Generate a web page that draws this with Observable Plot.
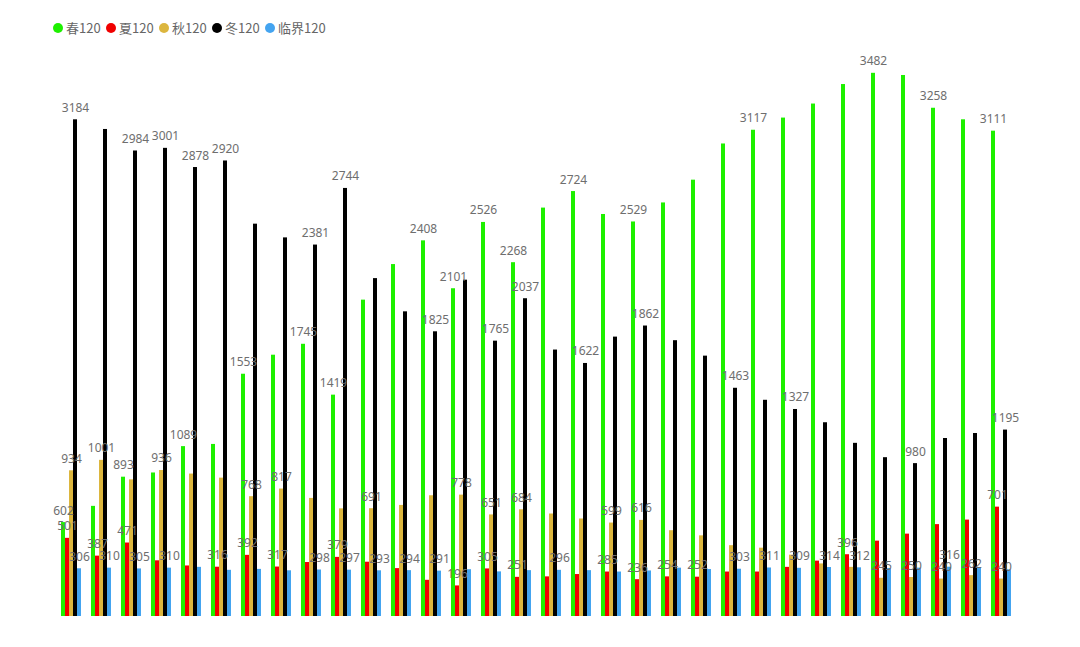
<!DOCTYPE html>
<html>
<head>
<meta charset="utf-8">
<script src="https://cdn.jsdelivr.net/npm/d3@7"></script>
<script src="https://cdn.jsdelivr.net/npm/@observablehq/plot@0.6"></script>
<style>
  html, body { margin: 0; padding: 0; background: #fff; }
  #legend { height: 50px; position: relative; font-family: "Noto Sans CJK SC", "Noto Sans", sans-serif; font-size: 13px; color: #666; }
  #legend .items { position: absolute; left: 53px; top: 18px; display: flex; align-items: center; }
  #legend .item { display: flex; align-items: center; width: 53px; white-space: nowrap; }
  #legend .dot { width: 10px; height: 10px; border-radius: 50%; margin-right: 3px; flex: none; }
  svg { display: block; }
</style>
</head>
<body>
<div id="legend"><div class="items"></div></div>
<div id="chart"></div>
<script>
// ---- data ----
const categories = d3.range(1, 33).map(String);
const seriesNames = ["春120", "夏120", "秋120", "冬120", "临界120"];
const seriesColors = ["#1ef000", "#f00000", "#dcb63e", "#000000", "#44a4f0"];

const spring = [602, 706, 893, 920, 1089, 1103, 1553, 1675, 1745, 1419, 2028, 2256, 2408, 2101, 2526, 2268,
                2618, 2724, 2577, 2529, 2651, 2797, 3029, 3117, 3195, 3285, 3410, 3482, 3468, 3258, 3184, 3111];
const summer = [501, 387, 471, 357, 324, 316, 392, 317, 346, 379, 348, 307, 232, 196, 305, 251,
                254, 269, 285, 236, 254, 252, 285, 285, 315, 355, 396, 483, 528, 589, 618, 701];
const autumn = [934, 1001, 876, 936, 913, 887, 768, 817, 757, 690, 691, 712, 774, 778, 651, 684,
                657, 625, 599, 616, 550, 517, 454, 438, 393, 337, 315, 245, 250, 240, 262, 240];
const winter = [3184, 3122, 2984, 3001, 2878, 2920, 2515, 2427, 2381, 2744, 2166, 1953, 1825, 2156, 1765, 2037,
                1708, 1622, 1791, 1862, 1768, 1669, 1463, 1386, 1327, 1242, 1110, 1018, 980, 1141, 1173, 1195];
const critical = [306, 310, 305, 310, 315, 296, 302, 293, 298, 297, 293, 294, 291, 300, 286, 294,
                  296, 294, 285, 292, 310, 301, 303, 311, 309, 314, 312, 308, 310, 316, 308, 299];

// categories (1-based) whose value label is visible in the reference
const springLabels = [1, 3, 5, 7, 9, 10, 13, 14, 15, 16, 18, 20, 24, 28, 30, 32];
const summerLabels = [1, 2, 3, 6, 7, 8, 10, 14, 15, 16, 19, 20, 21, 22, 27, 32];
const autumnLabels = [1, 2, 4, 7, 8, 11, 14, 15, 16, 19, 20, 28, 29, 30, 31, 32];
const winterLabels = [1, 3, 4, 5, 6, 9, 10, 13, 15, 16, 18, 20, 23, 25, 29, 32];
const criticalLabels = [1, 2, 3, 4, 9, 10, 11, 12, 13, 17, 23, 24, 25, 26, 27, 30];

const yMax = 3500;

// ---- table ----
const valueSets = [spring, summer, autumn, winter, critical];
const labelSets = [springLabels, summerLabels, autumnLabels, winterLabels, criticalLabels];
const rows = [];
categories.forEach((c, i) => {
  seriesNames.forEach((s, j) => {
    rows.push({cat: c, series: s, value: valueSets[j][i], show: labelSets[j].includes(i + 1)});
  });
});

// ---- legend ----
const items = d3.select("#legend .items");
seriesNames.forEach((s, j) => {
  const it = items.append("div").attr("class", "item");
  it.append("div").attr("class", "dot").style("background", seriesColors[j]);
  it.append("span").text(s);
});

// ---- chart ----
const chart = Plot.plot({
  width: 1080,
  height: 597,
  marginLeft: 51,
  marginRight: 60,
  marginTop: 20,
  marginBottom: 31,
  style: {fontFamily: "'Noto Sans', sans-serif", background: "#fff"},
  fx: {domain: categories, paddingInner: 0.2, paddingOuter: 0.1, axis: null, label: null},
  x: {domain: seriesNames, padding: 0, axis: null},
  y: {domain: [0, yMax], axis: null},
  color: {domain: seriesNames, range: seriesColors},
  marks: [
    Plot.barY(rows, {fx: "cat", x: "series", y: "value", fill: "series", inset: 0}),
    Plot.text(rows.filter(d => d.show), {
      fx: "cat", x: "series", y: "value", text: d => String(d.value),
      dy: -8, lineAnchor: "bottom", fill: "#6e6e6e", fontSize: 12
    })
  ]
});
document.getElementById("chart").appendChild(chart);
</script>
</body>
</html>
